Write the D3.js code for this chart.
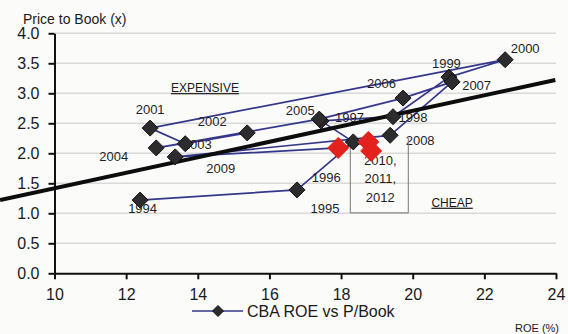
<!DOCTYPE html>
<html>
<head>
<meta charset="utf-8">
<script src="https://cdn.jsdelivr.net/npm/d3@7"></script>
<style>
  html, body { margin: 0; padding: 0; background: #fbfbf9; }
  svg { display: block; font-family: "Liberation Sans", Arial, sans-serif; }
</style>
</head>
<body>
<svg id="chart" width="568" height="334"></svg>
<script>
// CBA return on equity (%) against price-to-book multiple (x), by year
const years = [1994, 1995, 1996, 1997, 1998, 1999, 2000, 2001, 2002, 2003,
               2004, 2005, 2006, 2007, 2008, 2009, 2010, 2011, 2012];
const roe = [12.39, 16.77, 18.34, 17.44, 19.45, 21.01, 22.58, 12.67, 13.65, 15.38,
             12.84, 17.39, 19.73, 21.10, 19.37, 13.37, 17.92, 18.76, 18.84];
const priceToBook = [1.22, 1.39, 2.19, 2.54, 2.61, 3.27, 3.56, 2.42, 2.16, 2.34,
                     2.09, 2.57, 2.92, 3.19, 2.30, 1.94, 2.09, 2.19, 2.04];
const recentYears = [2010, 2011, 2012];

// fitted relationship P/B = intercept + slope * ROE
const trendSlope = 0.129;
const trendIntercept = 0.128;
const trendRange = [8.48, 23.98];

const xTicks = [10, 12, 14, 16, 18, 20, 22, 24];
const yTicks = [0.0, 0.5, 1.0, 1.5, 2.0, 2.5, 3.0, 3.5, 4.0];

// label placement around each point (pixels: dx to text centre, dy to baseline)
const labelOffset = {
  1994: [2.5, 13], 1995: [28, 23], 1996: [-27, 40], 1997: [28.5, 1],
  1998: [20, 5], 1999: [-2.5, -9], 2000: [20, -7], 2001: [0, -14],
  2002: [27, -18], 2003: [-50, 16], 2004: [-42.5, 13], 2005: [-19, -4],
  2006: [-21.5, -10], 2007: [24.5, 8], 2008: [30, 10], 2009: [45.5, 16]
};

const points = years.map((yr, i) => ({ year: yr, roe: roe[i], pb: priceToBook[i] }));

const svg = d3.select("#chart");
const x = d3.scaleLinear().domain([10, 24]).range([54.5, 556]);
const y = d3.scaleLinear().domain([0, 4]).range([273.3, 33.3]);

// horizontal gridlines
svg.append("g")
  .selectAll("line")
  .data(yTicks.filter(d => d > 0))
  .join("line")
  .attr("x1", x(10)).attr("x2", x(24))
  .attr("y1", d => y(d)).attr("y2", d => y(d))
  .attr("stroke", "#d9d9d9").attr("stroke-width", 1.5);

// axes
const yAxis = svg.append("g")
  .attr("transform", `translate(${x(10)},0)`)
  .call(d3.axisLeft(y).tickValues(yTicks).tickFormat(d3.format(".1f"))
    .tickSize(6).tickSizeOuter(0).tickPadding(9));
const xAxis = svg.append("g")
  .attr("transform", `translate(0,${y(0)})`)
  .call(d3.axisBottom(x).tickValues(xTicks).tickFormat(d3.format("d"))
    .tickSize(6).tickSizeOuter(0).tickPadding(9));
[yAxis, xAxis].forEach(g => {
  g.select(".domain").attr("stroke", "#111").attr("stroke-width", 2);
  g.selectAll(".tick line").attr("stroke", "#111").attr("stroke-width", 2);
  g.selectAll(".tick text").attr("fill", "#1a1a1a")
    .attr("font-size", 16).attr("font-family", "'Liberation Sans', Arial, sans-serif");
});

// axis titles
svg.append("text").attr("x", 23).attr("y", 23.5)
  .attr("font-size", 14).attr("fill", "#1a1a1a").text("Price to Book (x)");
svg.append("text").attr("x", 537).attr("y", 332).attr("text-anchor", "middle")
  .attr("font-size", 11).attr("fill", "#1a1a1a").text("ROE (%)");

// region notes
[["EXPENSIVE", 14.2, 3.02], ["CHEAP", 21.1, 1.11]].forEach(([t, rx, py]) => {
  svg.append("text").attr("x", x(rx)).attr("y", y(py))
    .attr("text-anchor", "middle").attr("font-size", 12).attr("fill", "#1a1a1a")
    .attr("text-decoration", "underline").text(t);
});

// connecting line through the years
const seriesColor = "#35388a";
svg.append("path")
  .datum(points)
  .attr("fill", "none")
  .attr("stroke", seriesColor)
  .attr("stroke-width", 1.7)
  .attr("stroke-linejoin", "round")
  .attr("d", d3.line().x(d => x(d.roe)).y(d => y(d.pb)));

// year labels
const labelled = points.filter(d => labelOffset[d.year]);
svg.append("g")
  .selectAll("text")
  .data(labelled)
  .join("text")
  .attr("x", d => x(d.roe) + labelOffset[d.year][0])
  .attr("y", d => y(d.pb) + labelOffset[d.year][1])
  .attr("text-anchor", "middle")
  .attr("font-size", 13)
  .attr("fill", "#1f1f1f")
  .text(d => d.year);

// callout for the latest three years
const recent = points.filter(d => recentYears.includes(d.year));
const anchor = recent[1];
const ax = x(anchor.roe), ay = y(anchor.pb);
svg.append("path")
  .attr("d", `M${ax - 18},${ay - 1} V${ay + 71} H${ax + 40} V${ay - 4}`)
  .attr("fill", "none").attr("stroke", "#777").attr("stroke-width", 1);
const callout = svg.append("text").attr("text-anchor", "middle")
  .attr("font-size", 13).attr("fill", "#1f1f1f");
recentYears.forEach((yr, i) => {
  callout.append("tspan").attr("x", ax + 12).attr("y", ay + 23 + i * 18.5)
    .text(yr + (i < recentYears.length - 1 ? "," : ""));
});

// trend line
svg.append("line")
  .attr("x1", x(trendRange[0])).attr("y1", y(trendIntercept + trendSlope * trendRange[0]))
  .attr("x2", x(trendRange[1])).attr("y2", y(trendIntercept + trendSlope * trendRange[1]))
  .attr("stroke", "#0d0d0d").attr("stroke-width", 4);

// markers
const diamond = r => `M0,${-r} L${r},0 L0,${r} L${-r},0 Z`;
svg.append("g")
  .selectAll("path")
  .data(points)
  .join("path")
  .attr("transform", d => `translate(${x(d.roe)},${y(d.pb)})`)
  .attr("d", d => recentYears.includes(d.year) ? diamond(10.5) : diamond(8))
  .attr("fill", d => recentYears.includes(d.year) ? "#e3211d" : "#2c2c2e")
  .attr("stroke", d => recentYears.includes(d.year) ? "#e3211d" : "#111")
  .attr("stroke-width", 1);

// legend
const lg = svg.append("g");
lg.append("line").attr("x1", 192).attr("x2", 243).attr("y1", 311).attr("y2", 311)
  .attr("stroke", seriesColor).attr("stroke-width", 1.7);
lg.append("path").attr("transform", "translate(218,311)").attr("d", diamond(5.5))
  .attr("fill", "#2c2c2e").attr("stroke", "#111");
lg.append("text").attr("x", 247).attr("y", 317).attr("font-size", 16)
  .attr("fill", "#1a1a1a").text("CBA ROE vs P/Book");
</script>
</body>
</html>
